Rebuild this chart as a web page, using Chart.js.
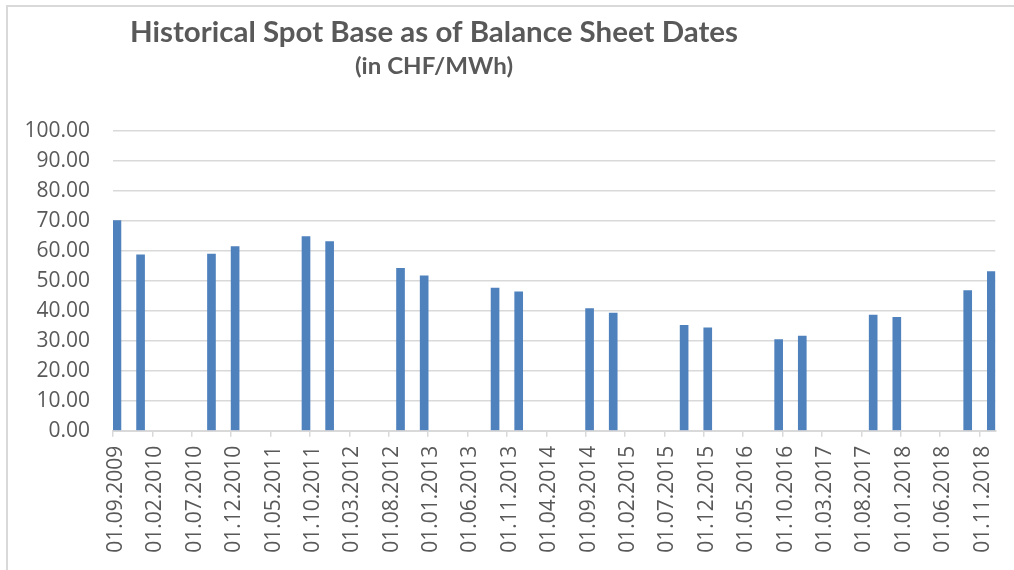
<!DOCTYPE html>
<html>
<head>
<meta charset="utf-8">
<script src="https://cdn.jsdelivr.net/npm/chart.js@4.4.1/dist/chart.umd.min.js"></script>
<style>
  html, body { margin: 0; padding: 0; background: #ffffff; }
  #wrap { width: 1014px; height: 570px; position: relative; }
</style>
</head>
<body>
<div id="wrap"><canvas id="c" width="1014" height="570"></canvas></div>
<script>
// ---- data ----
const balanceDates = [
  "30.09.2009", "31.12.2009",
  "30.09.2010", "31.12.2010",
  "30.09.2011", "31.12.2011",
  "30.09.2012", "31.12.2012",
  "30.09.2013", "31.12.2013",
  "30.09.2014", "31.12.2014",
  "30.09.2015", "31.12.2015",
  "30.09.2016", "31.12.2016",
  "30.09.2017", "31.12.2017",
  "30.09.2018", "31.12.2018"
];
const spotBase = [
  70.0, 58.6,
  58.9, 61.4,
  64.7, 63.0,
  54.1, 51.6,
  47.5, 46.3,
  40.7, 39.2,
  35.1, 34.3,
  30.4, 31.5,
  38.5, 37.8,
  46.7, 53.0
];
const tickLabels = [
  "01.09.2009", "01.02.2010", "01.07.2010", "01.12.2010", "01.05.2011",
  "01.10.2011", "01.03.2012", "01.08.2012", "01.01.2013", "01.06.2013",
  "01.11.2013", "01.04.2014", "01.09.2014", "01.02.2015", "01.07.2015",
  "01.12.2015", "01.05.2016", "01.10.2016", "01.03.2017", "01.08.2017",
  "01.01.2018", "01.06.2018", "01.11.2018"
];
const yTicks = [0, 10, 20, 30, 40, 50, 60, 70, 80, 90, 100];
const titleText = "Historical Spot Base as of Balance Sheet Dates";
const subtitleText = "(in CHF/MWh)";

// Date axis with base unit "months" (as in Excel): position = months since axis start
const axisStart = tickLabels[0];
function monthIndex(s) {
  const p = s.split(".");
  const a = axisStart.split(".");
  return (parseInt(p[2]) - parseInt(a[2])) * 12 + (parseInt(p[1]) - parseInt(a[1]));
}
// each bar sits in the middle of its month slot
const points = balanceDates.map((d, i) => ({ x: monthIndex(d) + 0.5, y: spotBase[i] }));
const xMax = monthIndex(balanceDates[balanceDates.length - 1]) + 1;

const GRAY = "#595959";
const LINE = "#d9d9d9";

const framePlugin = {
  id: "frame",
  beforeDraw(chart) {
    const ctx = chart.ctx;
    ctx.save();
    ctx.fillStyle = "#ffffff";
    ctx.fillRect(0, 0, chart.width, chart.height);
    ctx.strokeStyle = LINE;
    ctx.lineWidth = 2;
    ctx.beginPath();
    ctx.moveTo(7, chart.height + 5);
    ctx.lineTo(7, 6);
    ctx.lineTo(chart.width + 5, 6);
    ctx.stroke();
    ctx.restore();
  }
};

function drawFitted(ctx, text, font, cx, baseline, targetWidth) {
  ctx.save();
  ctx.font = font;
  const w = ctx.measureText(text).width;
  const sx = targetWidth / w;
  ctx.translate(cx, baseline);
  ctx.scale(sx, 1);
  ctx.textAlign = "center";
  ctx.textBaseline = "alphabetic";
  ctx.fillStyle = GRAY;
  ctx.fillText(text, 0, 0);
  ctx.restore();
}

const titlePlugin = {
  id: "titles",
  afterDraw(chart) {
    const ctx = chart.ctx;
    drawFitted(ctx, titleText, "bold 29px Lato", 434, 42, 608);
    drawFitted(ctx, subtitleText, "bold 22px Lato", 434, 73.5, 158);
  }
};

Chart.defaults.font.family = "'Open Sans', Lato, sans-serif";

new Chart(document.getElementById("c"), {
  type: "bar",
  data: {
    datasets: [{
      label: "Spot Base",
      data: points,
      backgroundColor: "#4f81bd",
      borderWidth: 0,
      barThickness: 8
    }]
  },
  options: {
    responsive: false,
    animation: false,
    devicePixelRatio: 1,
    layout: { padding: { top: 130.7, right: 15.5, left: 0, bottom: 0 } },
    plugins: {
      legend: { display: false },
      title: { display: false },
      tooltip: { enabled: false }
    },
    scales: {
      x: {
        type: "linear",
        min: 0,
        max: xMax,
        offset: false,
        grid: {
          display: true,
          offset: false,
          drawOnChartArea: false,
          drawTicks: true,
          tickLength: 6,
          color: LINE,
          lineWidth: 1.5
        },
        border: { display: true, color: LINE, width: 2 },
        afterBuildTicks(scale) {
          scale.ticks = tickLabels.map(l => ({ value: monthIndex(l) }));
        },
        afterFit(scale) { scale.height = 570 - 430.7; },
        ticks: {
          autoSkip: false,
          minRotation: 90,
          maxRotation: 90,
          padding: 9,
          labelOffset: 3,
          color: GRAY,
          font: { size: 21 },
          callback: (v, i) => tickLabels[i]
        }
      },
      y: {
        min: yTicks[0],
        max: yTicks[yTicks.length - 1],
        afterBuildTicks(scale) {
          scale.ticks = yTicks.map(v => ({ value: v }));
        },
        afterFit(scale) { scale.width = 113; },
        grid: {
          color: LINE,
          lineWidth: 1.5,
          drawTicks: false
        },
        border: { display: false },
        ticks: {
          padding: 23,
          color: GRAY,
          font: { size: 21 },
          callback: v => Number(v).toFixed(2)
        }
      }
    }
  },
  plugins: [framePlugin, titlePlugin]
});
</script>
</body>
</html>
